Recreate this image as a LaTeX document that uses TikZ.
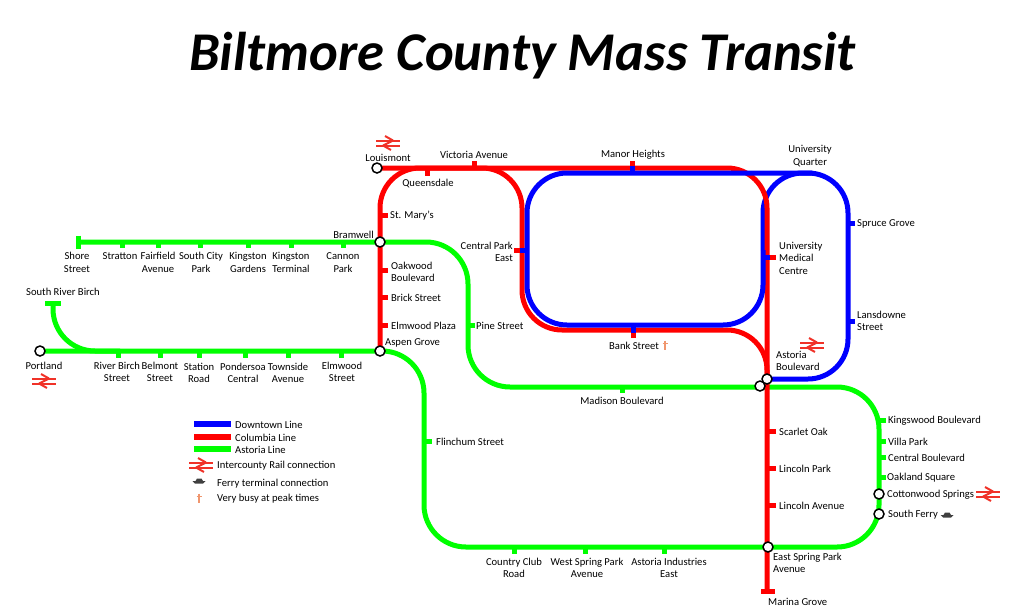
\documentclass[tikz,border=0pt]{standalone}
\usepackage{fontspec}
\setmainfont{Carlito}
\usepackage{tikz}
\usetikzlibrary{calc}
\definecolor{downtown}{RGB}{0,0,255}
\definecolor{columbia}{RGB}{255,0,0}
\definecolor{astoria}{RGB}{0,255,0}
\definecolor{railred}{RGB}{240,50,40}
\definecolor{busyorange}{RGB}{240,150,110}
\tikzset{
	% Styles for the lines and the ticks of the stops
	downtown line/.style={draw=downtown,line width=5,rounded corners=40},
	columbia line/.style={draw=columbia,line width=5,rounded corners=40},
	astoria line/.style={draw=astoria,line width=5,rounded corners=42},
	downtown tick/.style={draw=downtown,line width=5},
	columbia tick/.style={draw=columbia,line width=5},
	astoria tick/.style={draw=astoria,line width=5},
	% Two node styles for stations: interchange and plain text
	interchange/.style={circle,draw,line width=1.5,fill=white,inner sep=0,minimum size=10},
	stop label/.style={inner sep=0,yshift=-1,align=center,font=\fontsize{10.6}{12.6}\selectfont},
	% Symbols
	rail logo/.pic={
		\draw[railred,line width=2] (-12,-2.5) -- (12,-2.5) (-12,2.5) -- (12,2.5);
		\draw[railred,line width=2,line join=bevel] (-3,-7) -- (5,-2.5) -- (-5,2.5) -- (3,7);
	},
	ferry logo/.pic={
		\fill[black!75] (-6.5,0) -- (6.5,0) -- (4,2.5) -- (-4,2.5) -- cycle;
		\fill[black!75] (-3.5,0) -- (-2,-2.5) -- (2.5,-2.5) -- (4,0) -- cycle;
	},
	busy logo/.pic={
		\draw[busyorange,line width=1.5] (0,-4.5) -- (0,4.5) (-2.5,-1.5) -- (2.5,-1.5);
	}
}
\begin{document}
\begin{tikzpicture}[x=1pt,y=-1pt]
			\useasboundingbox (0,0) rectangle (1023,614);
			% macro for the ticks of the stops
			\newcommand{\stoptick}[4]{\coordinate(#1-a)at(#2);\coordinate(#1-b)at(#3);\draw[#4 tick](#1-a)--(#1-b);}
			\node(title)[inner sep=0,font=\fontsize{54.6}{54.6}\selectfont\bfseries\itshape]at(522.5,56){Biltmore County Mass Transit};
			
			% station positions
			\coordinate(shore-pt)at(78,242);
			\coordinate(bramwell-pt)at(380,242);
			\coordinate(portland-pt)at(40,351);
			\coordinate(aspen-pt)at(380,351);
			\coordinate(louismont-pt)at(377,168);
			\coordinate(marina-pt)at(767,591);
			\coordinate(astoria-pt)at(767,379);
			\coordinate(madison-pt)at(760,386);
			\coordinate(spring-pt)at(768,547);
			\coordinate(riverbirch-pt)at(53,303);
			
			% corners of the lines
			\coordinate(a1)at(468,242);
			\coordinate(a2)at(468,387);
			\coordinate(a3)at(879,387);
			\coordinate(a4)at(879,547);
			\coordinate(a5)at(424,547);
			\coordinate(a6)at(424,351);
			\coordinate(a7)at(53,351);
			\coordinate(a8)at(120,351);
			\coordinate(b0)at(812,173);
			\coordinate(b1)at(527,173);
			\coordinate(b3)at(763,325);
			\coordinate(b4)at(527,325);
			\coordinate(b6)at(763,250);
			\coordinate(b7)at(763,173);
			\coordinate(b8)at(848,173);
			\coordinate(b9)at(848,379);
			\coordinate(c1)at(767,168);
			\coordinate(c2)at(380,168);
			\coordinate(c3)at(522,168);
			\coordinate(c4)at(522,330);
			\coordinate(c5)at(767,330);
			
			% the lines
			\draw[astoria line](shore-pt)--(a1)--(a2)--(a3)--(a4)--(a5)--(a6)--(portland-pt);
			\draw[astoria line](riverbirch-pt)--(a7)--(a8);
			\draw[downtown line](b6)--(b7)--(b8)--(b9)--(astoria-pt);
			\draw[columbia line](louismont-pt)--(c1)--(marina-pt);
			\draw[columbia line](aspen-pt)--(c2)--(c3)--(c4)--(c5)--(astoria-pt);
			\draw[downtown line](b0)--(b1)--(b4)--(b3)--(b6);
			
			% end caps
			\stoptick{shore}{78,235.5}{78,248.5}{astoria}
			\stoptick{birchcap}{45,303}{61,303}{astoria}
			\stoptick{marinacap}{761,591}{775,591}{columbia}
			
			% ticks of the astoria line
			\stoptick{stratton}{122,242}{122,248}{astoria}
			\stoptick{fairfield}{158,242}{158,248}{astoria}
			\stoptick{southcity}{200,242}{200,248}{astoria}
			\stoptick{kgardens}{248,242}{248,248}{astoria}
			\stoptick{kterminal}{291,242}{291,248}{astoria}
			\stoptick{cannon}{343,242}{343,248}{astoria}
			\stoptick{riverbirch}{118,351}{118,358}{astoria}
			\stoptick{belmont}{160,351}{160,358}{astoria}
			\stoptick{station}{199,351}{199,358}{astoria}
			\stoptick{pondersoa}{245,351}{245,358}{astoria}
			\stoptick{townside}{288,351}{288,358}{astoria}
			\stoptick{elmwood}{341,351}{341,358}{astoria}
			\stoptick{pine}{468,325}{475,325}{astoria}
			\stoptick{madison}{622,387}{622,393}{astoria}
			\stoptick{flinchum}{424,441}{432,441}{astoria}
			\stoptick{country}{514,547}{514,554}{astoria}
			\stoptick{westspring}{585,547}{585,554}{astoria}
			\stoptick{industries}{664,547}{664,554}{astoria}
			\stoptick{kingswood}{879,420}{886,420}{astoria}
			\stoptick{villa}{879,441}{886,441}{astoria}
			\stoptick{central}{879,457}{886,457}{astoria}
			\stoptick{oakland}{879,477}{886,477}{astoria}
			
			% ticks of the columbia line
			\stoptick{queensdale}{427,168}{427,176}{columbia}
			\stoptick{victoria}{474,168}{474,160.5}{columbia}
			\stoptick{stmarys}{380,215}{388,215}{columbia}
			\stoptick{oakwood}{380,270}{388,270}{columbia}
			\stoptick{brick}{380,297}{388,297}{columbia}
			\stoptick{plaza}{380,325}{388,325}{columbia}
			\stoptick{scarlet}{767,431}{776,431}{columbia}
			\stoptick{lincolnp}{767,468}{776,468}{columbia}
			\stoptick{lincolna}{767,505}{776,505}{columbia}
			\stoptick{manor}{632,168}{632,161}{columbia}
			\stoptick{parkeast}{522,250}{514,250}{columbia}
			\stoptick{medical}{767,257}{776,257}{columbia}
			\stoptick{bank}{633,330}{633,338}{columbia}
			
			% ticks of the downtown line
			\stoptick{spruce}{848,223}{855,223}{downtown}
			\stoptick{lansdowne}{848,321}{855,321}{downtown}
			\stoptick{manor2}{632,166}{632,175}{downtown}
			\stoptick{parkeast2}{520,250}{527,250}{downtown}
			\stoptick{medical2}{763,257}{770,257}{downtown}
			\stoptick{bank2}{633,325}{633,333}{downtown}
			
			% interchanges
			\node(bramwell)[interchange]at(bramwell-pt){};
			\node(aspen)[interchange]at(aspen-pt){};
			\node(portland)[interchange]at(portland-pt){};
			\node(louismont)[interchange]at(louismont-pt){};
			\node(madisonx)[interchange]at(madison-pt){};
			\node(astoriax)[interchange]at(astoria-pt){};
			\node(spring)[interchange]at(spring-pt){};
			\node(cottonwood)[interchange]at(879,494){};
			\node(southferry)[interchange]at(879,514){};
			
			% labels along the top green branch
			\node(l-shore)[stop label]at(77,261.5){Shore\\Street};
			\node(l-stratton)[stop label]at(120,255.5){Stratton};
			\node(l-fairfield)[stop label]at(158,261.5){Fairfield\\Avenue};
			\node(l-southcity)[stop label]at(201,261.5){South City\\Park};
			\node(l-kgardens)[stop label]at(248,261.5){Kingston\\Gardens};
			\node(l-kterminal)[stop label]at(291,261.5){Kingston\\Terminal};
			\node(l-cannon)[stop label]at(343,261.5){Cannon\\Park};
			\node(l-bramwell)[stop label,anchor=east]at(374,234){Bramwell};
			
			% labels along the lower green branch
			\node(l-birch)[stop label]at(63,291){South River Birch};
			\node(l-portland)[stop label]at(44,365){Portland};
			\node(l-riverbirch)[stop label]at(117,371){River Birch\\Street};
			\node(l-belmont)[stop label]at(160,371){Belmont\\Street};
			\node(l-station)[stop label]at(199,372){Station\\Road};
			\node(l-pondersoa)[stop label]at(243,372){Pondersoa\\Central};
			\node(l-townside)[stop label]at(288,372){Townside\\Avenue};
			\node(l-elmwood)[stop label]at(342,371){Elmwood\\Street};
			\node(l-aspen)[stop label,anchor=west]at(385,342){Aspen Grove};
			\node(l-flinchum)[stop label,anchor=west]at(436,441){Flinchum Street};
			\node(l-pine)[stop label,anchor=west]at(476,325){Pine Street};
			\node(l-madison)[stop label]at(622,400){Madison Boulevard};
			\node(l-country)[stop label]at(514,567){Country Club\\Road};
			\node(l-westspring)[stop label]at(587,567){West Spring Park\\Avenue};
			\node(l-industries)[stop label]at(669,567){Astoria Industries\\East};
			
			% labels along the red line
			\node(l-louismont)[stop label]at(388,157){Louismont};
			\node(l-victoria)[stop label]at(474,154){Victoria Avenue};
			\node(l-queensdale)[stop label]at(428,183){Queensdale};
			\node(l-stmarys)[stop label,anchor=west]at(390,215){St. Mary's};
			\node(l-oakwood)[stop label,anchor=west,align=left]at(391,271){Oakwood\\Boulevard};
			\node(l-brick)[stop label,anchor=west]at(391,297){Brick Street};
			\node(l-plaza)[stop label,anchor=west]at(391,325){Elmwood Plaza};
			\node(l-manor)[stop label]at(633,154){Manor Heights};
			\node(l-parkeast)[stop label,anchor=east,align=right]at(513,251){Central Park\\East};
			\node(l-medical)[stop label,anchor=west,align=left]at(779,257){University\\Medical\\Centre};
			\node(l-bank)[stop label,anchor=west]at(609,345){Bank Street};
			\node(l-astoria)[stop label,anchor=west,align=left]at(776,360){Astoria\\Boulevard};
			\node(l-scarlet)[stop label,anchor=west]at(779,431){Scarlet Oak};
			\node(l-lincolnp)[stop label,anchor=west]at(779,468){Lincoln Park};
			\node(l-lincolna)[stop label,anchor=west]at(779,505){Lincoln Avenue};
			\node(l-spring)[stop label,anchor=west,align=left]at(773,562){East Spring Park\\Avenue};
			\node(l-marina)[stop label,anchor=west]at(768,601){Marina Grove};
			
			% labels along the blue line
			\node(l-university)[stop label]at(810,155){University\\Quarter};
			\node(l-spruce)[stop label,anchor=west]at(857,223){Spruce Grove};
			\node(l-lansdowne)[stop label,anchor=west,align=left]at(857,320){Lansdowne\\Street};
			
			% labels at the right
			\node(l-kingswood)[stop label,anchor=west]at(888,420){Kingswood Boulevard};
			\node(l-villa)[stop label,anchor=west]at(888,441){Villa Park};
			\node(l-central)[stop label,anchor=west]at(888,457){Central Boulevard};
			\node(l-oakland)[stop label,anchor=west]at(887,477){Oakland Square};
			\node(l-cottonwood)[stop label,anchor=west]at(887,494){Cottonwood Springs};
			\node(l-southferry)[stop label,anchor=west]at(888,514){South Ferry};
			
			% symbols on the map
			\pic at(388,143){rail logo};
			\pic at(812,345){rail logo};
			\pic at(988,494){rail logo};
			\pic at(44,381){rail logo};
			\pic at(947,515){ferry logo};
			\pic at(665,345){busy logo};
			
			% key
			\coordinate(k-d1)at(194,424);\coordinate(k-d2)at(231,424);
			\coordinate(k-c1)at(194,437);\coordinate(k-c2)at(231,437);
			\coordinate(k-a1)at(194,449);\coordinate(k-a2)at(231,449);
			\draw[downtown tick,line width=6](k-d1)--(k-d2);
			\draw[columbia tick,line width=6](k-c1)--(k-c2);
			\draw[astoria tick,line width=6](k-a1)--(k-a2);
			\node(k-downtown)[stop label,anchor=west]at(235,424){Downtown Line};
			\node(k-columbia)[stop label,anchor=west]at(235,437){Columbia Line};
			\node(k-astoria)[stop label,anchor=west]at(235,449){Astoria Line};
			\pic at(201,465){rail logo};
			\pic at(199,481){ferry logo};
			\pic at(199,498){busy logo};
			\node(k-rail)[stop label,anchor=west]at(217,465){Intercounty Rail connection};
			\node(k-ferry)[stop label,anchor=west]at(217,483){Ferry terminal connection};
			\node(k-busy)[stop label,anchor=west]at(217,498){Very busy at peak times};
		\end{tikzpicture}
\end{document}
